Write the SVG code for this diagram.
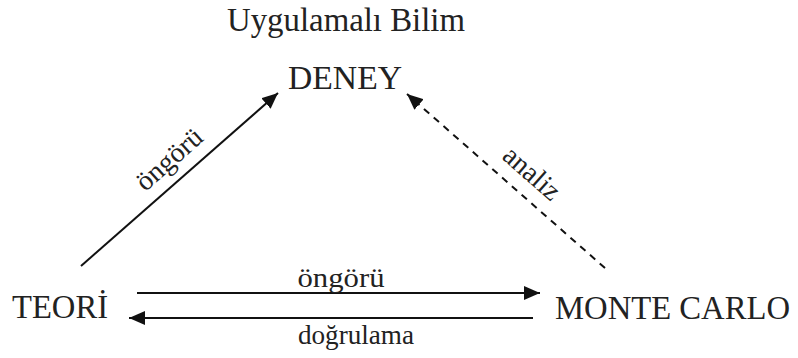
<svg xmlns="http://www.w3.org/2000/svg" width="798" height="358" viewBox="0 0 798 358">
<style>
.node{font-family:"Liberation Serif","Times New Roman",serif;font-size:33px;fill:#222}
.lbl{font-family:"Liberation Serif","Times New Roman",serif;font-size:28px;fill:#222}
.ln{stroke:#111;stroke-width:2;fill:none}
.dash{stroke-dasharray:7 6}
</style>
<defs>
<marker id="ah" markerUnits="userSpaceOnUse" markerWidth="18" markerHeight="14" refX="16" refY="7" orient="auto">
<path d="M0,0 L16,7 L0,14 Z" fill="#111"/>
</marker>
</defs>
<text x="346" y="31" text-anchor="middle" class="node" textLength="238" lengthAdjust="spacingAndGlyphs">Uygulamalı Bilim</text>
<g id="deney"><text x="345" y="89" text-anchor="middle" class="node" textLength="114" lengthAdjust="spacingAndGlyphs">DENEY</text></g>
<g id="teori"><text x="12" y="318" class="node" textLength="96" lengthAdjust="spacingAndGlyphs">TEORİ</text></g>
<g id="montecarlo"><text x="555" y="319" class="node" textLength="235" lengthAdjust="spacingAndGlyphs">MONTE CARLO</text></g>
<g id="connectors">
<line class="ln" x1="81" y1="266" x2="278" y2="93" marker-end="url(#ah)"/>
<line class="ln dash" x1="605" y1="268" x2="407" y2="94" marker-end="url(#ah)"/>
<line class="ln" x1="137" y1="293" x2="540" y2="293" marker-end="url(#ah)"/>
<line class="ln" x1="533" y1="318" x2="129" y2="318" marker-end="url(#ah)"/>
<text class="lbl" transform="translate(175,166) rotate(-41.3)" text-anchor="middle">öngörü</text>
<text class="lbl" transform="translate(526,180) rotate(41.3)" text-anchor="middle">analiz</text>
<text class="lbl" x="341" y="287" text-anchor="middle" textLength="87" lengthAdjust="spacingAndGlyphs">öngörü</text>
<text class="lbl" x="356" y="344" text-anchor="middle" textLength="116" lengthAdjust="spacingAndGlyphs">doğrulama</text>
</g>
</svg>
